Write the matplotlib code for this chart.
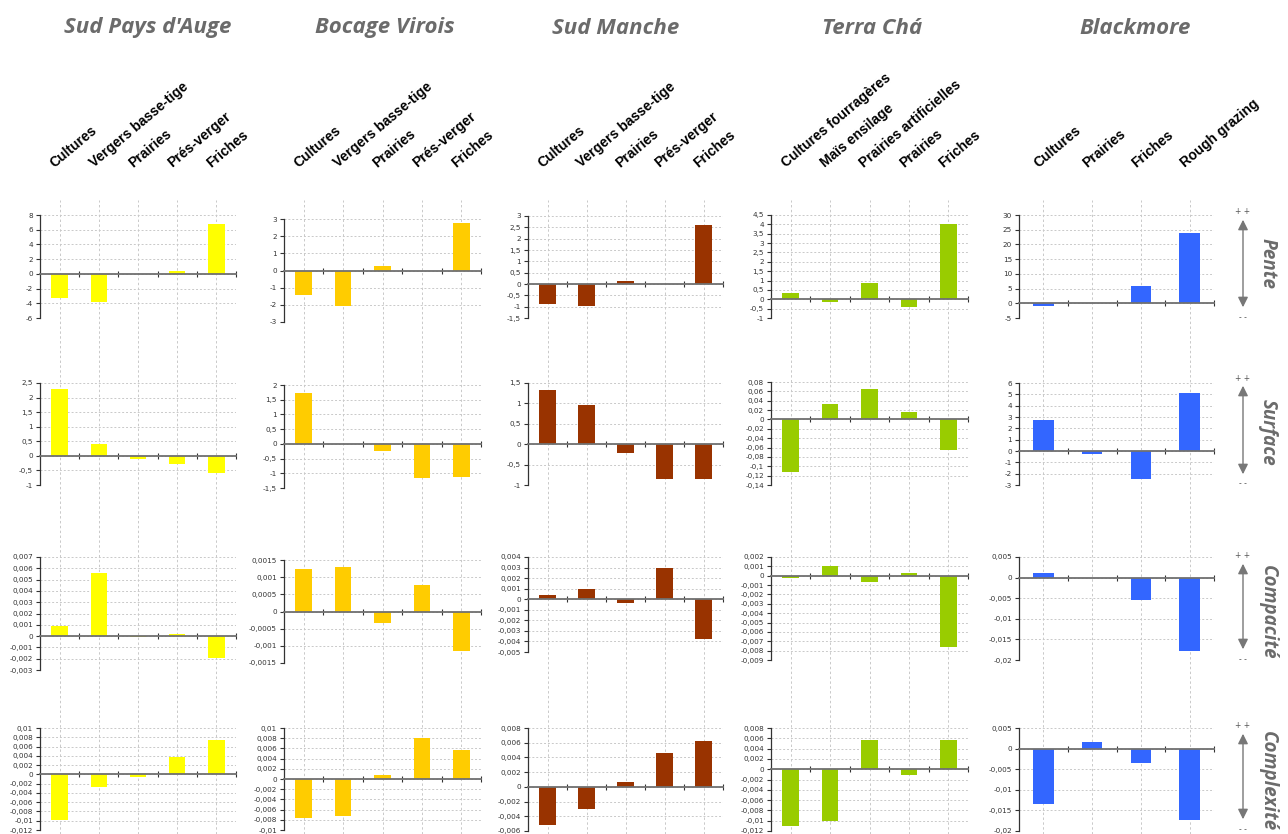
import numpy as np
import matplotlib
matplotlib.use('Agg')
import matplotlib.pyplot as plt

W, H = 1288, 834

# --- data -------------------------------------------------------------
sites = ["Sud Pays d'Auge", "Bocage Virois", "Sud Manche", "Terra Chá", "Blackmore"]
indices = ["Pente", "Surface", "Compacité", "Complexité"]

cats_normandie = ["Cultures", "Vergers basse-tige", "Prairies", "Prés-verger", "Friches"]
cats_terra = ["Cultures fourragères", "Maïs ensilage", "Prairies artificielles", "Prairies", "Friches"]
cats_blackmore = ["Cultures", "Prairies", "Friches", "Rough grazing"]
site_cats = [cats_normandie, cats_normandie, cats_normandie, cats_terra, cats_blackmore]

# values: one list per site, rows = Pente, Surface, Compacité, Complexité
sud_pays_auge = [
    [-3.3, -3.8, 0.0, 0.4, 6.75],
    [2.28, 0.4, -0.1, -0.28, -0.6],
    [0.0009, 0.0056, -0.0001, 0.0002, -0.0019],
    [-0.0098, -0.0027, -0.0005, 0.0037, 0.0074],
]
bocage_virois = [
    [-1.45, -2.05, 0.28, 0.0, 2.78],
    [1.72, 0.0, -0.25, -1.15, -1.12],
    [0.00123, 0.0013, -0.00033, 0.00076, -0.00115],
    [-0.0077, -0.0072, 0.0007, 0.0081, 0.0057],
]
sud_manche = [
    [-0.9, -0.95, 0.14, 0.0, 2.62],
    [1.32, 0.95, -0.22, -0.86, -0.85],
    [0.0004, 0.001, -0.0004, 0.003, -0.0038],
    [-0.0052, -0.003, 0.0006, 0.0046, 0.0063],
]
terra_cha = [
    [0.32, -0.16, 0.89, -0.43, 4.0],
    [-0.113, 0.033, 0.066, 0.015, -0.066],
    [-0.0002, 0.001, -0.0007, 0.0003, -0.0076],
    [-0.011, -0.01, 0.0057, -0.0011, 0.0057],
]
blackmore = [
    [-0.8, 0.0, 5.97, 24.0],
    [2.7, -0.25, -2.5, 5.1],
    [0.001, 0.0, -0.0055, -0.0178],
    [-0.0135, 0.0015, -0.0034, -0.0173],
]
site_values = [sud_pays_auge, bocage_virois, sud_manche, terra_cha, blackmore]

# y axis ranges (lo, hi, step) per site, per index
y_lo = [[-6, -1, -0.003, -0.012],
        [-3, -1.5, -0.0015, -0.01],
        [-1.5, -1, -0.005, -0.006],
        [-1, -0.14, -0.009, -0.012],
        [-5, -3, -0.02, -0.02]]
y_hi = [[8, 2.5, 0.007, 0.01],
        [3, 2, 0.0015, 0.01],
        [3, 1.5, 0.004, 0.008],
        [4.5, 0.08, 0.002, 0.008],
        [30, 6, 0.005, 0.005]]
y_step = [[2, 0.5, 0.001, 0.002],
          [1, 0.5, 0.0005, 0.002],
          [0.5, 0.5, 0.001, 0.002],
          [0.5, 0.02, 0.001, 0.002],
          [5, 1, 0.005, 0.005]]

colors = ["#FFFF00", "#FFCC00", "#993300", "#99CC00", "#3366FF"]

# --- layout (pixels) -----------------------------------------------------
col_x = [(40, 236), (284, 481), (528, 723), (771, 968), (1019, 1214)]
row_y = [[(215, 318), (383, 485), (557, 670), (728, 830)],
         [(219, 322), (385, 488), (560, 663), (728, 830)],
         [(216, 318), (383, 485), (557, 652), (728, 831)],
         [(215, 318), (382, 485), (557, 660), (728, 831)],
         [(215, 318), (383, 485), (557, 660), (728, 831)]]
title_x = [148, 385, 616, 872, 1135]


def box(x0, x1, y0, y1):
    return [x0 / W, 1 - y1 / H, (x1 - x0) / W, (y1 - y0) / H]


def fmt(t):
    t = float(np.round(t, 6)) + 0.0
    if t == 0:
        return "0"
    return ("%g" % t).replace(".", ",")


fig = plt.figure(figsize=(W / 100, H / 100), dpi=100)
fig.patch.set_facecolor("white")

grey_title = "#6b6b6b"

for c in range(5):
    cats = site_cats[c]
    n = len(cats)
    x0, x1 = col_x[c]

    # column-wide vertical dashed lines
    bg = fig.add_axes(box(x0, x1, 200, H))
    bg.set_xlim(-0.5, n - 0.5)
    bg.set_ylim(0, 1)
    for i in range(n):
        bg.axvline(i, color="#c9c9c9", lw=0.7, ls=(0, (2.5, 2.5)))
    bg.axis("off")

    fig.text(title_x[c] / W, 1 - 28 / H, sites[c], ha="center", va="center",
             fontsize=16, fontweight="bold", style="italic",
             family="Open Sans", color=grey_title)

    # category labels
    for i, lab in enumerate(cats):
        px = x0 + (i + 0.5) * (x1 - x0) / n - 5
        fig.text(px / W, 1 - 168 / H, lab, rotation=40, rotation_mode="anchor",
                 ha="left", va="baseline", fontsize=10, fontweight="bold",
                 family="Liberation Sans", color="black")

    for r in range(4):
        y0, y1 = row_y[c][r]
        ax = fig.add_axes(box(x0, x1, y0, y1))
        ax.patch.set_alpha(0)
        vals = site_values[c][r]
        ax.bar(np.arange(n), vals, width=0.42, color=colors[c], zorder=3)
        lo, hi, st = y_lo[c][r], y_hi[c][r], y_step[c][r]
        ticks = np.arange(lo, hi + st / 2, st)
        ax.set_ylim(lo, hi)
        ax.set_xlim(-0.5, n - 0.5)
        ax.set_yticks(ticks)
        ax.set_yticklabels([fmt(t) for t in ticks])
        ax.yaxis.grid(True, color="#c9c9c9", lw=0.7, ls=(0, (2, 2)))
        ax.set_axisbelow(True)
        ax.set_xticks(np.arange(n) + 0.5)
        ax.set_xticklabels([])
        for s in ["top", "right"]:
            ax.spines[s].set_visible(False)
        ax.spines["left"].set_color("#333333")
        ax.spines["left"].set_linewidth(0.9)
        ax.spines["bottom"].set_position(("data", 0))
        ax.spines["bottom"].set_color("#707070")
        ax.spines["bottom"].set_linewidth(1.3)
        ax.spines["bottom"].set_zorder(4)
        ax.tick_params(axis="y", direction="out", length=3, width=0.8,
                       color="#333333", labelsize=5.2, labelcolor="#333333", pad=2)
        ax.tick_params(axis="x", direction="inout", length=4, width=0.8,
                       color="#333333")

# right-hand index labels with arrows
arrow_y = [(211, 318), (377, 485), (555, 660), (725, 830)]
label_y = [263, 432, 612, 781]
for r in range(4):
    ya, yb = arrow_y[r]
    fig.add_artist(matplotlib.patches.FancyArrowPatch(
        (1243 / W, 1 - (ya + 6) / H), (1243 / W, 1 - (yb - 8) / H),
        transform=fig.transFigure, arrowstyle="<|-|>,head_length=6,head_width=3",
        color="#777777", lw=1.0))
    fig.text(1243 / W, 1 - (ya + 1) / H, "+ +", ha="center", va="center",
             fontsize=5.5, color="#555555")
    fig.text(1243 / W, 1 - (yb - 1) / H, "- -", ha="center", va="center",
             fontsize=5.5, color="#555555")
    fig.text(1268 / W, 1 - label_y[r] / H, indices[r], rotation=-90,
             ha="center", va="center", fontsize=13.5, fontweight="bold",
             style="italic", family="Open Sans", color=grey_title)

fig.savefig("out.png", dpi=100)
